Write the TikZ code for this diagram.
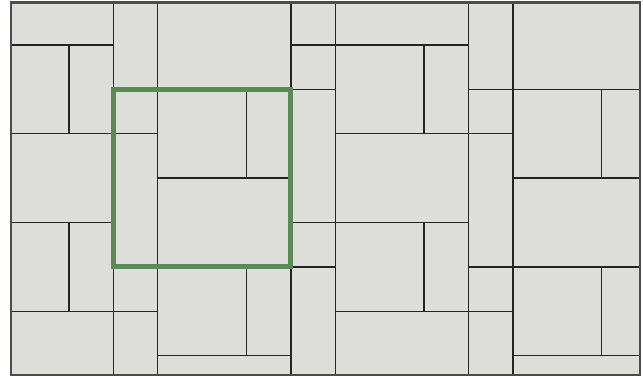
\documentclass[tikz,border=0pt]{standalone}
\definecolor{TileGrey}{HTML}{DDDED9}
\definecolor{JointBlack}{HTML}{242424}
\definecolor{FrameGreen}{HTML}{5B8A57}
\usepackage{tikz}

\begin{document}
\begin{tikzpicture}[y=-1cm, x=1cm,
  tile/.style={draw=JointBlack, line width=0.8pt},
  edge/.style={draw=black!70, line width=1.3pt},
  cell/.style={draw=FrameGreen, line width=3.2pt},
]
\useasboundingbox (-2.552,-2.011) rectangle (11.930,6.457);
\coordinate (nw) at (-2.304,-1.955);
\coordinate (se) at (11.86,6.435);
\begin{scope}
  \clip (nw) rectangle (se);
  \fill[TileGrey] (nw) rectangle (se);
  % one 8 wide strip of the pattern, repeated sideways
  \foreach \s in {-8,0,8}{
    \foreach \x/\y/\w/\h in {0/-3/1/3, 0/0/1/1, 0/1/1/3, 0/4/1/1, 0/5/1/3,
        1/-2/3/2, 1/0/2/2, 3/0/1/2, 1/2/3/2, 1/4/2/2, 3/4/1/2, 1/6/3/2,
        4/-4/1/3, 4/-1/1/1, 4/0/1/3, 4/3/1/1, 4/4/1/3,
        5/-3/3/2, 5/-1/2/2, 7/-1/1/2, 5/1/3/2, 5/3/2/2, 7/3/1/2, 5/5/3/2}
      \draw[tile] (\s+\x,\y) rectangle ++(\w,\h);
  }
\end{scope}
\draw[edge] (nw) rectangle (se);
\draw[cell] (0,0) rectangle (4,4);
\end{tikzpicture}
\end{document}
